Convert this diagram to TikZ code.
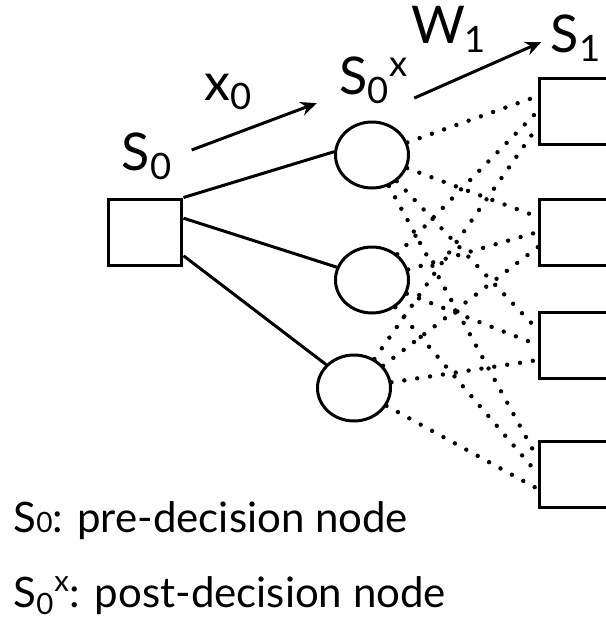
\documentclass[tikz,border=0pt]{standalone}
\usepackage{fontspec}
\setmainfont{Lato}
\usetikzlibrary{shapes.geometric,calc,arrows.meta}

\tikzset{
	state/.style={draw, line width=1.5pt, rectangle, minimum width=36.5pt, minimum height=33pt, inner sep=0pt},
	chance/.style={draw, line width=1.5pt, ellipse, minimum width=36.5pt, minimum height=33pt, inner sep=0pt},
	dotline/.style={line width=2.2pt, line cap=round, dash pattern=on 0pt off 6.5pt},
	lbl/.style={font=\fontsize{26}{30}\selectfont, inner sep=0pt},
	legend/.style={font=\fontsize{21}{25}\selectfont, inner sep=0pt, anchor=base west}
}

\begin{document}
\begin{tikzpicture}[x=0.5pt, y=-0.5pt, line width=1.5pt]
	\clip (0,0) rectangle (606,629);
	\node[state] (s0) at (145.5,232) {};
	\node[chance] (c1) at (372,155) {};
	\node[chance] (c2) at (372,280) {};
	\node[chance] (c3) at (354,388) {};
	\foreach \j/\y in {1/111, 2/232, 3/345, 4/474}
		\node[state, minimum width=45pt, anchor=west] (b\j) at (538,\y) {};
	% decisions
	\draw (s0.north east) -- (c1.175);
	\draw (s0.20) -- (c2.160);
	\draw (s0.-32) -- (c3.140);
	% outcomes
	\foreach \i in {1,2,3}
		\foreach \j in {1,...,4}
			\draw[dotline] (c\i) -- ($(b\j.west)+(0,{15*(\i-2)})$);
	% labels
	\node[lbl] (s0lab) at (147,156) {S\textsubscript{0}};
	\node[lbl] (x0lab) at (229,92) {x\textsubscript{0}};
	\node[lbl] (s0xlab) at (374,80) {S\textsubscript{0}\textsuperscript{x}};
	\node[lbl] (w1lab) at (449,29) {W\textsubscript{1}};
	\node[lbl] (s1lab) at (576,38) {S\textsubscript{1}};
	\draw[-{Stealth[length=8pt, width=7pt]}] ($(s0lab.east)+(18,-6)$) -- ($(s0xlab.south west)+(-21,-2)$);
	\draw[-{Stealth[length=8pt, width=7pt]}] ($(s0xlab.south east)+(4,-7)$) -- ($(s1lab.west)+(-8,4)$);
	% legend
	\node[legend] (leg1) at (12,532) {S{\fontsize{14}{16}\selectfont 0}: pre-decision node};
	\node[legend] (leg2) at (12,607) {S\textsubscript{0}\textsuperscript{x}: post-decision node};
\end{tikzpicture}
\end{document}
